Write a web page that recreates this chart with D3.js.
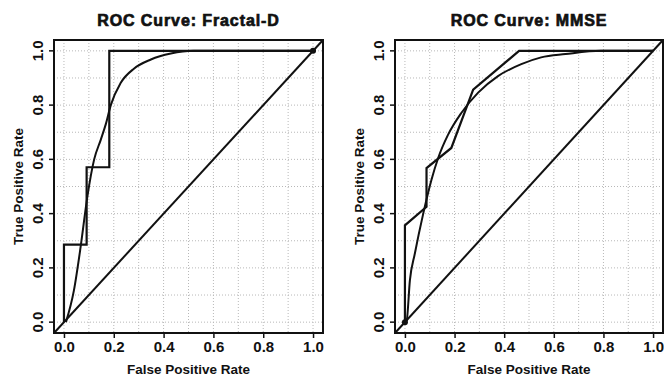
<!DOCTYPE html>
<html>
<head>
<meta charset="utf-8">
<script src="https://cdn.jsdelivr.net/npm/d3@7"></script>
<style>
  body { margin: 0; background: #fff; }
  text { font-family: "Liberation Sans", Arial, sans-serif; fill: #111; }
</style>
</head>
<body>
<script>
// ---- data ----
var tickValues = [0, 0.2, 0.4, 0.6, 0.8, 1.0];
var tickLabels = ["0.0", "0.2", "0.4", "0.6", "0.8", "1.0"];
var gridValues = [0, 0.1, 0.2, 0.3, 0.4, 0.5, 0.6, 0.7, 0.8, 0.9, 1.0];

// Fractal-D: empirical (step) curve
var fracEmpFpr = [0, 0, 0.091, 0.091, 0.182, 0.182, 1];
var fracEmpTpr = [0, 0.286, 0.286, 0.571, 0.571, 1, 1];
// Fractal-D: fitted smooth curve
var fracFitFpr = [0.008, 0.04, 0.067, 0.094, 0.121, 0.148, 0.168, 0.188, 0.228, 0.282, 0.349, 0.429, 0.52, 1];
var fracFitTpr = [0, 0.117, 0.278, 0.463, 0.599, 0.673, 0.73, 0.8, 0.882, 0.935, 0.968, 0.99, 1, 1];

// MMSE: empirical curve (ties give slanted segments)
var mmseEmpFpr = [0, 0, 0.087, 0.087, 0.187, 0.275, 0.46, 1];
var mmseEmpTpr = [0, 0.357, 0.425, 0.568, 0.642, 0.857, 1, 1];
// MMSE: fitted smooth curve
var mmseFitFpr = [0, 0.007, 0.02, 0.04, 0.074, 0.107, 0.134, 0.174, 0.228, 0.295, 0.375, 0.469, 0.549, 0.647, 0.79, 1];
var mmseFitTpr = [0, 0.006, 0.154, 0.253, 0.401, 0.525, 0.605, 0.691, 0.772, 0.846, 0.907, 0.951, 0.976, 0.988, 1, 1];

var panels = [
  { title: "ROC Curve: Fractal-D", left: 54, right: 323,
    emp: [fracEmpFpr, fracEmpTpr], fit: [fracFitFpr, fracFitTpr], dot: [1, 1] },
  { title: "ROC Curve: MMSE", left: 395, right: 663,
    emp: [mmseEmpFpr, mmseEmpTpr], fit: [mmseFitFpr, mmseFitTpr], dot: [0, 0] }
];

var W = 664, H = 376;
var plotTop = 40, plotBottom = 333;

var svg = d3.select("body").append("svg")
  .attr("width", W)
  .attr("height", H);

function zip(xs, ys) {
  return xs.map(function(x, i) { return [x, ys[i]]; });
}

panels.forEach(function(p) {
  var x = d3.scaleLinear().domain([-0.04, 1.04]).range([p.left, p.right]);
  var y = d3.scaleLinear().domain([-0.04, 1.04]).range([plotBottom, plotTop]);
  var g = svg.append("g");

  // dotted grid
  g.selectAll(".vg").data(gridValues).enter().append("line")
    .attr("x1", function(d) { return x(d); }).attr("x2", function(d) { return x(d); })
    .attr("y1", plotTop).attr("y2", plotBottom)
    .attr("stroke", "#b8b8b8").attr("stroke-width", 1).attr("stroke-dasharray", "1,2");
  g.selectAll(".hg").data(gridValues).enter().append("line")
    .attr("y1", function(d) { return y(d); }).attr("y2", function(d) { return y(d); })
    .attr("x1", p.left).attr("x2", p.right)
    .attr("stroke", "#b8b8b8").attr("stroke-width", 1).attr("stroke-dasharray", "1,2");

  // axes
  var xAxis = d3.axisBottom(x).tickValues(tickValues)
    .tickFormat(function(d, i) { return tickLabels[i]; }).tickSize(5).tickPadding(3);
  var ax = g.append("g").attr("transform", "translate(0," + plotBottom + ")").call(xAxis);
  ax.select(".domain").remove();
  ax.selectAll("line").attr("stroke", "#111").attr("stroke-width", 1.5);
  ax.selectAll("text").attr("font-size", 15).attr("font-weight", "bold")
    .attr("font-family", "Liberation Sans, Arial, sans-serif").attr("fill", "#111");

  var yAxis = d3.axisLeft(y).tickValues(tickValues)
    .tickFormat(function(d, i) { return tickLabels[i]; }).tickSize(5);
  var ay = g.append("g").attr("transform", "translate(" + p.left + ",0)").call(yAxis);
  ay.select(".domain").remove();
  ay.selectAll("line").attr("stroke", "#111").attr("stroke-width", 1.5);
  ay.selectAll(".tick").attr("transform", null);
  ay.selectAll("line").attr("y1", function(d) { return y(d); }).attr("y2", function(d) { return y(d); });
  ay.selectAll("text")
    .attr("x", null).attr("dy", null).attr("y", null)
    .attr("text-anchor", "middle")
    .attr("transform", function(d) { return "translate(-11," + y(d) + ") rotate(-90)"; })
    .attr("font-size", 15).attr("font-weight", "bold")
    .attr("font-family", "Liberation Sans, Arial, sans-serif").attr("fill", "#111");

  // chance diagonal across the whole box
  g.append("line")
    .attr("x1", x(-0.04)).attr("y1", y(-0.04))
    .attr("x2", x(1.04)).attr("y2", y(1.04))
    .attr("stroke", "#111").attr("stroke-width", 2);

  var line = d3.line()
    .x(function(d) { return x(d[0]); })
    .y(function(d) { return y(d[1]); });

  g.append("path").datum(zip(p.fit[0], p.fit[1]))
    .attr("d", line.curve(d3.curveMonotoneX))
    .attr("fill", "none").attr("stroke", "#111").attr("stroke-width", 2);

  g.append("path").datum(zip(p.emp[0], p.emp[1]))
    .attr("d", line.curve(d3.curveLinear))
    .attr("fill", "none").attr("stroke", "#111").attr("stroke-width", 2.2);

  g.append("circle")
    .attr("cx", x(p.dot[0])).attr("cy", y(p.dot[1])).attr("r", 3)
    .attr("fill", "#111");

  // box
  g.append("rect")
    .attr("x", p.left).attr("y", plotTop)
    .attr("width", p.right - p.left).attr("height", plotBottom - plotTop)
    .attr("fill", "none").attr("stroke", "#111").attr("stroke-width", 2);

  // labels
  g.append("text")
    .attr("x", (p.left + p.right) / 2).attr("y", 26)
    .attr("text-anchor", "middle")
    .attr("font-size", 16).attr("font-weight", "bold")
    .attr("letter-spacing", 0.9)
    .attr("stroke", "#111").attr("stroke-width", 0.7)
    .text(p.title);

  g.append("text")
    .attr("x", (p.left + p.right) / 2).attr("y", 374)
    .attr("text-anchor", "middle")
    .attr("font-size", 13.5).attr("font-weight", "bold")
    .attr("fill", "#111")
    .text("False Positive Rate");

  g.append("text")
    .attr("transform", "translate(" + (p.left - 31) + "," + ((plotTop + plotBottom) / 2) + ") rotate(-90)")
    .attr("text-anchor", "middle")
    .attr("font-size", 13.5).attr("font-weight", "bold")
    .attr("fill", "#111")
    .text("True Positive Rate");
});
</script>
</body>
</html>
